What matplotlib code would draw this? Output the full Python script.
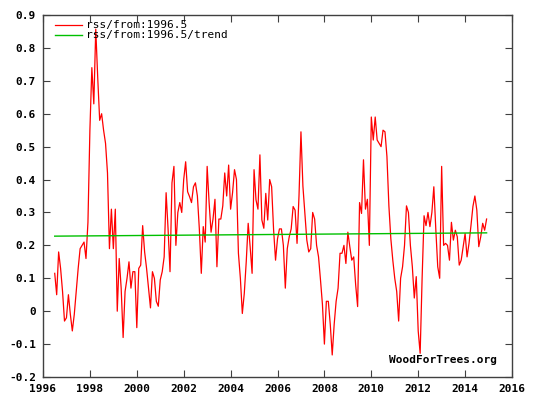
import numpy as np
import matplotlib
matplotlib.use("Agg")
import matplotlib.pyplot as plt

# RSS monthly anomalies, Jul 1996 .. Dec 2014
start_year = 1996.5
rss = [
    # 1996 Jul-Dec
    0.115, 0.05, 0.18, 0.13, 0.06, -0.03,
    # 1997
    -0.02, 0.05, -0.01, -0.06, -0.01, 0.06, 0.13, 0.19, 0.20, 0.21, 0.16, 0.27,
    # 1998
    0.55, 0.74, 0.63, 0.857, 0.71, 0.58, 0.60, 0.55, 0.51, 0.42, 0.19, 0.31,
    # 1999
    0.19, 0.31, 0.0, 0.16, 0.07, -0.08, 0.06, 0.10, 0.15, 0.07, 0.12, 0.12,
    # 2000
    -0.05, 0.13, 0.14, 0.26, 0.18, 0.13, 0.07, 0.01, 0.12, 0.10, 0.03, 0.015,
    # 2001
    0.095, 0.12, 0.165, 0.36, 0.25, 0.12, 0.39, 0.44, 0.20, 0.30, 0.33, 0.30,
    # 2002
    0.40, 0.454, 0.363, 0.348, 0.33, 0.378, 0.39, 0.35, 0.25, 0.115, 0.257, 0.21,
    # 2003
    0.44, 0.33, 0.24, 0.28, 0.34, 0.135, 0.28, 0.28, 0.32, 0.42, 0.35, 0.444,
    # 2004
    0.31, 0.36, 0.43, 0.40, 0.176, 0.10, -0.007, 0.054, 0.15, 0.267, 0.196, 0.115,
    # 2005
    0.43, 0.338, 0.31, 0.475, 0.277, 0.252, 0.358, 0.277, 0.40, 0.378, 0.247, 0.155,
    # 2006
    0.22, 0.25, 0.25, 0.20, 0.07, 0.19, 0.226, 0.25, 0.318, 0.307, 0.206, 0.35,
    # 2007
    0.545, 0.38, 0.30, 0.216, 0.18, 0.19, 0.30, 0.28, 0.20, 0.165, 0.095, 0.02,
    # 2008
    -0.10, 0.03, 0.03, -0.04, -0.133, -0.04, 0.03, 0.07, 0.176, 0.176, 0.20, 0.145,
    # 2009
    0.24, 0.196, 0.155, 0.165, 0.08, 0.014, 0.33, 0.297, 0.46, 0.31, 0.34, 0.20,
    # 2010
    0.59, 0.52, 0.59, 0.52, 0.51, 0.50, 0.55, 0.545, 0.47, 0.32, 0.22, 0.155,
    # 2011
    0.10, 0.06, -0.03, 0.10, 0.135, 0.20, 0.32, 0.30, 0.20, 0.135, 0.04, 0.105,
    # 2012
    -0.06, -0.128, 0.10, 0.29, 0.26, 0.30, 0.257, 0.30, 0.378, 0.25, 0.135, 0.10,
    # 2013
    0.44, 0.20, 0.206, 0.20, 0.155, 0.27, 0.216, 0.246, 0.226, 0.14, 0.155, 0.196,
    # 2014
    0.236, 0.165, 0.206, 0.26, 0.318, 0.35, 0.307, 0.196, 0.226, 0.267, 0.246, 0.28,
]
trend_values = [0.228, 0.238]

years = start_year + np.arange(len(rss)) / 12.0

fig = plt.figure(figsize=(5.35, 4.04), dpi=100, facecolor="white")
ax = fig.add_axes([43 / 535, 1 - 377 / 404, 469 / 535, 362 / 404])

ax.plot(years, rss, color="#ff0000", lw=0.9, label="rss/from:1996.5")
ax.plot([years[0], years[-1]], trend_values, color="#00c000", lw=1.0,
        label="rss/from:1996.5/trend")

ax.set_xlim(1996, 2016)
ax.set_ylim(-0.2, 0.9)
ax.set_xticks(np.arange(1996, 2017, 2))
ax.set_yticks(np.round(np.arange(-0.2, 0.91, 0.1), 1))
ax.set_yticklabels(["-0.2", "-0.1", "0", "0.1", "0.2", "0.3", "0.4",
                    "0.5", "0.6", "0.7", "0.8", "0.9"])

font = dict(family="DejaVu Sans Mono", size=8, weight="bold")
for lab in ax.get_xticklabels() + ax.get_yticklabels():
    lab.set_fontfamily(font["family"])
    lab.set_fontsize(font["size"])
    lab.set_fontweight(font["weight"])

ax.tick_params(direction="in", length=5, width=0.8, color="#404040",
               top=True, right=True, pad=5)
for sp in ax.spines.values():
    sp.set_color("#404040")
    sp.set_linewidth(1.0)

ax.legend(loc="upper left", bbox_to_anchor=(0.026, 0.985), frameon=False,
          handlelength=2.4, handletextpad=0.35, labelspacing=0.0,
          borderaxespad=0.0, borderpad=0.0,
          prop=dict(family="DejaVu Sans Mono", size=8))

ax.text(0.968, 0.047, "WoodForTrees.org", transform=ax.transAxes,
        ha="right", va="center", family="DejaVu Sans Mono", size=8,
        weight="bold")

fig.savefig("out.png", dpi=100, facecolor="white")
